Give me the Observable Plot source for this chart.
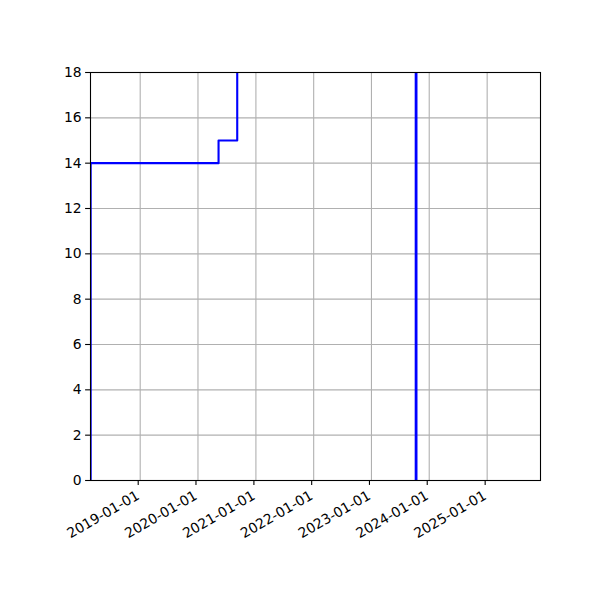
<!DOCTYPE html>
<html>
<head>
<meta charset="utf-8">
<script src="https://cdn.jsdelivr.net/npm/d3@7"></script>
<script src="https://cdn.jsdelivr.net/npm/@observablehq/plot@0.6"></script>
<style>
  html, body { margin: 0; padding: 0; background: #fff; }
  #chart svg { display: block; }
</style>
</head>
<body>
<div id="chart"></div>
<script>
// Step series (dates where the value changes, and the value reached)
const stepDates = ["2018-02-22", "2020-05-10", "2020-09-05"];
const stepValues = [0, 14, 15, 30];
// Vertical marker
const markerDate = "2023-10-10";
// Axis limits and ticks
const xLimits = ["2018-02-21", "2025-12-04"];
const xTickDates = ["2019-01-01", "2020-01-01", "2021-01-01", "2022-01-01", "2023-01-01", "2024-01-01", "2025-01-01"];
const yTicks = [0, 2, 4, 6, 8, 10, 12, 14, 16, 18];

const parse = d3.utcParse("%Y-%m-%d");
const xs = [...stepDates, stepDates[stepDates.length - 1]].map(parse);
const stepData = xs.map((d, i) => ({date: d, value: stepValues[i]}));

const font = "DejaVu Sans, sans-serif";
const plot = Plot.plot({
  width: 600,
  height: 600,
  marginLeft: 90,
  marginRight: 60,
  marginTop: 72,
  marginBottom: 120,
  style: {fontFamily: font, fontSize: "13.9px", color: "black", background: "white"},
  x: {type: "utc", domain: xLimits.map(parse)},
  y: {domain: [0, 18]},
  marks: [
    Plot.gridX(xTickDates.map(parse), {stroke: "#b0b0b0", strokeOpacity: 1, strokeWidth: 1.1}),
    Plot.gridY(yTicks, {stroke: "#b0b0b0", strokeOpacity: 1, strokeWidth: 1.1}),
    Plot.lineY(stepData, {x: "date", y: "value", curve: "step-before", stroke: "#0000ff", strokeWidth: 2.1, clip: true}),
    Plot.ruleX([parse(markerDate)], {stroke: "#0000ff", strokeWidth: 2.8}),
    Plot.frame({stroke: "black", strokeWidth: 1.1}),
    Plot.axisY({ticks: yTicks, tickSize: 4.9, tickPadding: 4, label: null, strokeWidth: 1.1, fontSize: 13.9}),
    Plot.axisX({ticks: xTickDates.map(parse), tickFormat: d3.utcFormat("%Y-%m-%d"), tickSize: 4.9, tickRotate: -30, tickPadding: 9, dx: -2, label: null, strokeWidth: 1.1, fontSize: 13.9})
  ]
});
document.getElementById("chart").appendChild(plot);
</script>
</body>
</html>
